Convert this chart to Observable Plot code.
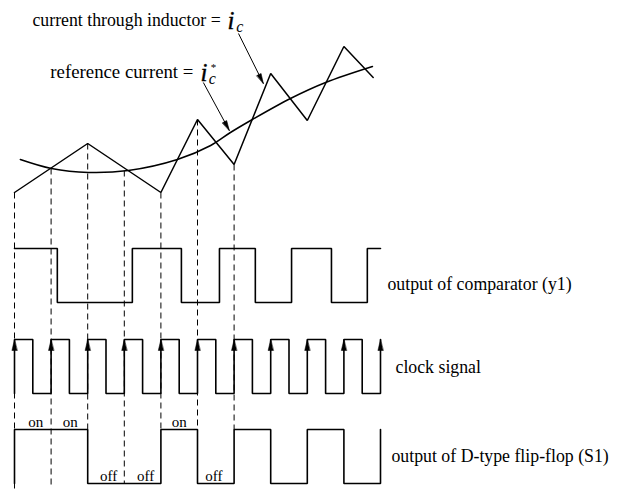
<!DOCTYPE html>
<html><head><meta charset="utf-8">
<script src="https://cdn.jsdelivr.net/npm/d3@7"></script>
<script src="https://cdn.jsdelivr.net/npm/@observablehq/plot@0.6"></script>
<style>body{margin:0;background:#fff}#chart{width:618px;height:490px}</style>
</head><body><div id="chart"></div>
<script>
// ---------- data (time in clock periods, current in arbitrary units) ----------
const clockRise = [0,1,2,3,4,5,6,7,8,9,10];
const clockFall = [0.5,1.5,2.5,3.5,4.5,5.5,6.5,7.5,8.5,9.5];
const inductorT = [0,2,4,5,6,7,8,9,9.8];
const inductorI = [0.8,5.7,0.8,8.1,3.6,12.7,8.0,15.4,12.3];
const refT = [0.16,1.01,2.02,3.11,4.45,5.36,5.9,6.5,7.54,8.5,9.78];
const refI = [4.1,3.2,2.8,3.0,4.1,5.5,6.8,8.1,10.2,11.8,13.4];
const compT = [0,1.17,3.22,4.56,5.6,6.58,7.57,8.66,9.64,10];
const compLevel = [1,0,1,0,1,0,1,0,1,1];
const s1T = [0,0,2,4,5,6,7,8,9,10];
const s1Level = [0,1,0,1,0,1,0,1,0,1];
const sampleT = [0,1,2,3,4,5,6];
const sampleI = [0.8,3.2,5.7,3.0,0.8,8.1,3.6];
const sampleEnd = ["below","below","high","low","high","high","high"];
const onT = [0.58,1.52,4.5];
const offT = [2.57,3.58,5.45];
const signalNames = ["output of comparator (y1)","clock signal","output of D-type flip-flop (S1)"];
const titleTexts = ["current through inductor =","reference current ="];

// ---------- layout ----------
const xOpts = {domain:[0,10], range:[14,380], axis:null};
const yOpts = {domain:[0,49], range:[490,0], axis:null};
const CUR0 = 29;              // current baseline (y units)
const AMP = 5.4;              // logic amplitude
const BASE = {comp:18.8, clock:9.7, s1:0.7};
const cy = i => CUR0 + i;
const FONT = "Liberation Serif, Times New Roman, serif";

const inductor = inductorT.map((t,k)=>({t, y: cy(inductorI[k])}));
const reference = refT.map((t,k)=>({t, y: cy(refI[k])}));
const comp = compT.map((t,k)=>({t, y: BASE.comp + AMP*compLevel[k]}));
const s1 = s1T.map((t,k)=>({t, y: BASE.s1 + AMP*s1Level[k]}));
const clock = [];
clockRise.forEach((r,k)=>{
  clock.push({t:r, y:BASE.clock}, {t:r, y:BASE.clock+AMP});
  if (k < clockFall.length) clock.push({t:clockFall[k], y:BASE.clock+AMP}, {t:clockFall[k], y:BASE.clock});
});
const endY = {below: 0.2, high: BASE.s1 + AMP, low: BASE.s1};
const samples = sampleT.map((t,k)=>({t, y1: cy(sampleI[k]), y2: endY[sampleEnd[k]]}));

const signalLabels = signalNames.map((s,k)=>({s, t:[10.19,10.41,10.3][k], y:[20.6,12.3,3.4][k]}));
const onLabels = onT.map(t=>({t, s:"on"}));
const offLabels = offT.map(t=>({t, s:"off"}));

// annotation arrows (current units)
const arrows = [
  {t1:6.12, i1:16.7, t2:6.80, i2:11.7},
  {t1:5.16, i1:11.8, t2:5.87, i2:7.0}
];
const sx = Plot.scale({x: xOpts}), sy = Plot.scale({y: yOpts});
arrows.forEach(a=>{
  const dx = sx.apply(a.t2) - sx.apply(a.t1);
  const dy = sy.apply(cy(a.i2)) - sy.apply(cy(a.i1));
  a.rot = Math.atan2(dx, -dy) * 180 / Math.PI;
});

const head = {draw(ctx, l, r){ ctx.moveTo(0,-l); ctx.lineTo(-r,0); ctx.lineTo(r,0); ctx.closePath(); }};

const titles = [
  {s:titleTexts[0], t:0.49, y:cy(17.5), size:17.8},
  {s:titleTexts[1], t:0.98, y:cy(12.3), size:18.8}
];
const iGlyph = [{t:5.82, y:cy(17.2)}, {t:5.08, y:cy(12.0)}];
const cGlyph = [{t:6.06, y:cy(16.9)}, {t:5.31, y:cy(11.7)}];
const star = [{t:5.36, y:cy(13.0)}];

const chart = Plot.plot({
  width: 618, height: 490,
  marginTop:0, marginRight:0, marginBottom:0, marginLeft:0,
  x: xOpts, y: yOpts,
  style: {fontFamily: FONT, background:"#fff", color:"#000"},
  marks: [
    Plot.link(samples, {x1:"t", x2:"t", y1:"y1", y2:"y2", stroke:"#000", strokeWidth:1, strokeDasharray:"6,4"}),
    Plot.line(reference, {x:"t", y:"y", curve:"catmull-rom", stroke:"#000", strokeWidth:1.5}),
    Plot.line(inductor, {x:"t", y:"y", stroke:"#000", strokeWidth:1.5, strokeLinejoin:"miter"}),
    Plot.line(comp, {x:"t", y:"y", curve:"step-after", stroke:"#000", strokeWidth:1.6, strokeLinejoin:"miter"}),
    Plot.line(clock, {x:"t", y:"y", stroke:"#000", strokeWidth:1.6, strokeLinejoin:"miter"}),
    Plot.vector(clockRise, {x: d=>d, y: BASE.clock+AMP, length: 11, r: 2.6, anchor:"end", shape: head, fill:"#000", stroke:"#000", strokeWidth:0.5}),
    Plot.line(s1, {x:"t", y:"y", curve:"step-after", stroke:"#000", strokeWidth:1.6, strokeLinejoin:"miter"}),
    Plot.text(onLabels, {x:"t", y: BASE.s1 + AMP, dy:-3, text:"s", fontSize:15, lineAnchor:"bottom", fill:"#000"}),
    Plot.text(offLabels, {x:"t", y: BASE.s1, dy:-3, text:"s", fontSize:15, lineAnchor:"bottom", fill:"#000"}),
    Plot.text(signalLabels, {x:"t", y:"y", text:"s", fontSize:17.8, textAnchor:"start", lineAnchor:"middle", fill:"#000"}),
    Plot.text(titles.slice(0,1), {x:"t", y:"y", text:"s", fontSize:titles[0].size, textAnchor:"start", lineAnchor:"bottom", fill:"#000"}),
    Plot.text(titles.slice(1), {x:"t", y:"y", text:"s", fontSize:titles[1].size, textAnchor:"start", lineAnchor:"bottom", fill:"#000"}),
    Plot.text(iGlyph, {x:"t", y:"y", text: ()=>"i", fontSize:25, fontStyle:"italic", textAnchor:"start", lineAnchor:"bottom", fill:"#000", stroke:"#000", strokeWidth:0.4}),
    Plot.text(cGlyph, {x:"t", y:"y", text: ()=>"c", fontSize:16, fontStyle:"italic", textAnchor:"start", lineAnchor:"bottom", fill:"#000"}),
    Plot.text(star, {x:"t", y:"y", text: ()=>"*", fontSize:11, textAnchor:"start", lineAnchor:"bottom", fill:"#000"}),
    Plot.link(arrows, {x1:"t1", y1: d=>cy(d.i1), x2:"t2", y2: d=>cy(d.i2), stroke:"#000", strokeWidth:1}),
    Plot.vector(arrows, {x:"t2", y: d=>cy(d.i2), rotate:"rot", length: 10, r: 2.4, anchor:"end", shape: head, fill:"#000", stroke:"#000", strokeWidth:0.5})
  ]
});
document.getElementById("chart").append(chart);
</script>
</body></html>
